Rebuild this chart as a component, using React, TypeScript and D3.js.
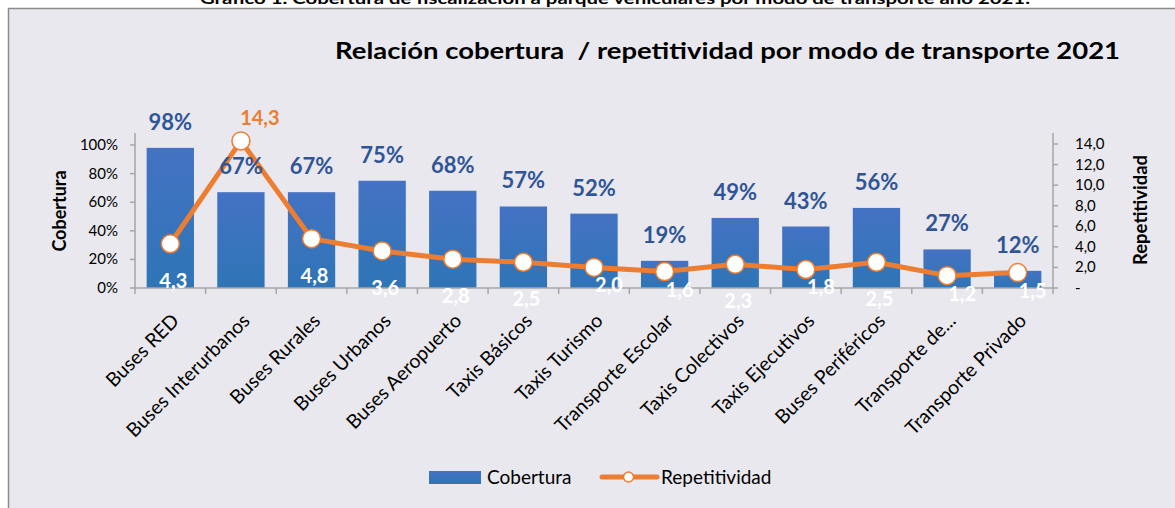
import React from "react";
import * as d3 from "d3";

const categories = [
  "Buses RED",
  "Buses Interurbanos",
  "Buses Rurales",
  "Buses Urbanos",
  "Buses Aeropuerto",
  "Taxis Básicos",
  "Taxis Turismo",
  "Transporte Escolar",
  "Taxis Colectivos",
  "Taxis Ejecutivos",
  "Buses Periféricos",
  "Transporte de...",
  "Transporte Privado",
];
const cobertura = [0.98, 0.67, 0.67, 0.75, 0.68, 0.57, 0.52, 0.19, 0.49, 0.43, 0.56, 0.27, 0.12];
const repetitividad = [4.3, 14.3, 4.8, 3.6, 2.8, 2.5, 2.0, 1.6, 2.3, 1.8, 2.5, 1.2, 1.5];
const leftTicks = [0, 0.2, 0.4, 0.6, 0.8, 1.0];
const rightTicks = [0, 2, 4, 6, 8, 10, 12, 14];
// label layout for the line's data labels
const repLabelPlacement = [
  "below", "above", "below", "below", "below", "below", "right",
  "right", "below", "right", "below", "right", "right",
];

const W = 1175;
const H = 508;
const FONT = "Lato, 'Open Sans', sans-serif";
const BLUE_TEXT = "#2F5597";
const ORANGE = "#ED7D31";

export default function App() {
  const x = d3.scaleBand<string>().domain(categories).range([135, 1053]);
  const yL = d3.scaleLinear().domain([0, 1]).range([288, 145]);
  const yR = d3.scaleLinear().domain([0, 14]).range([288, 144]);
  const bw = x.bandwidth();
  const barW = bw * 0.67;
  const cx = (c: string) => (x(c) as number) + bw / 2;

  const line = d3
    .line<number>()
    .x((_, i) => cx(categories[i]))
    .y((d) => yR(d));

  const fmtR = (v: number) => (v === 0 ? "-" : v.toFixed(1).replace(".", ","));

  return (
    <svg
      width={W}
      height={H}
      style={{ position: "absolute", left: 0, top: 0, background: "#fff" }}
      fontFamily={FONT}
    >
      <defs>
        <linearGradient id="barGrad" x1="0" y1="0" x2="0" y2="1">
          <stop offset="0%" stopColor="#4472C4" />
          <stop offset="100%" stopColor="#2E75B6" />
        </linearGradient>
      </defs>
      <text
        x={615}
        y={4}
        textAnchor="middle"
        fontSize={15}
        fontWeight="bold"
        fill="#000"
        textLength={830}
        lengthAdjust="spacingAndGlyphs"
      >
        Gráfico 1. Cobertura de fiscalización a parque vehiculares por modo de transporte año 2021.
      </text>
      <rect x={8.5} y={8.5} width={W} height={H} fill="#E9E8EE" stroke="#8C8C8C" strokeWidth={1.5} />

      <text
        x={335}
        y={59}
        fontSize={23}
        fontWeight="bold"
        fill="#000"
        textLength={785}
        lengthAdjust="spacingAndGlyphs"
        style={{ whiteSpace: "pre" }}
      >
        {"Relación cobertura  / repetitividad por modo de transporte 2021"}
      </text>

      {/* bars */}
      {categories.map((c, i) => (
        <rect
          key={c}
          x={cx(c) - barW / 2}
          y={yL(cobertura[i])}
          width={barW}
          height={yL(0) - yL(cobertura[i])}
          fill="url(#barGrad)"
        />
      ))}

      {/* left axis */}
      <line x1={135} x2={135} y1={133} y2={288} stroke="#A6A6A6" strokeWidth={1.5} />
      {leftTicks.map((t) => (
        <g key={t}>
          <line x1={130} x2={135} y1={yL(t)} y2={yL(t)} stroke="#A6A6A6" strokeWidth={1.5} />
          <text x={118} y={yL(t) + 5} textAnchor="end" fontSize={15} fill="#000">
            {Math.round(t * 100) + "%"}
          </text>
        </g>
      ))}
      <text
        transform="translate(66,211) rotate(-90)"
        textAnchor="middle"
        fontSize={18}
        fontWeight="bold"
        fill="#000"
      >
        Cobertura
      </text>

      {/* right axis */}
      <line x1={1053} x2={1053} y1={133} y2={288} stroke="#A6A6A6" strokeWidth={1.5} />
      {rightTicks.map((t) => (
        <g key={t}>
          <line x1={1053} x2={1058} y1={yR(t)} y2={yR(t)} stroke="#A6A6A6" strokeWidth={1.5} />
          <text x={1075} y={yR(t) + 5} textAnchor="start" fontSize={15} fill="#000">
            {fmtR(t)}
          </text>
        </g>
      ))}
      <text
        transform="translate(1147,210) rotate(-90)"
        textAnchor="middle"
        fontSize={18.5}
        fontWeight="bold"
        fill="#000"
      >
        Repetitividad
      </text>

      {/* x axis */}
      <line x1={135} x2={1053} y1={288} y2={288} stroke="#A6A6A6" strokeWidth={1.5} />
      {categories.map((c) => (
        <line
          key={"t" + c}
          x1={x(c) as number}
          x2={x(c) as number}
          y1={288}
          y2={294}
          stroke="#A6A6A6"
          strokeWidth={1.5}
        />
      ))}
      <line x1={1053} x2={1053} y1={288} y2={294} stroke="#A6A6A6" strokeWidth={1.5} />
      {categories.map((c) => (
        <text
          key={"l" + c}
          transform={`translate(${cx(c) + 10},${322}) rotate(-45)`}
          textAnchor="end"
          fontSize={19.5}
          fill="#000"
        >
          {c}
        </text>
      ))}

      {/* line */}
      <path
        d={line(repetitividad) || ""}
        fill="none"
        stroke={ORANGE}
        strokeWidth={5}
        strokeLinejoin="round"
      />
      {categories.map((c, i) => (
        <circle
          key={"p" + c}
          cx={cx(c)}
          cy={yR(repetitividad[i])}
          r={9}
          fill="#fff"
          stroke={ORANGE}
          strokeWidth={1.5}
        />
      ))}

      {/* bar labels (drawn above the line) */}
      {categories.map((c, i) => (
        <text
          key={"bl" + c}
          x={cx(c)}
          y={yL(cobertura[i]) - 26 + 8}
          textAnchor="middle"
          fontSize={22}
          fontWeight="bold"
          fill={BLUE_TEXT}
        >
          {Math.round(cobertura[i] * 100) + "%"}
        </text>
      ))}

      {categories.map((c, i) => {
        const p = repLabelPlacement[i];
        const px = cx(c);
        const py = yR(repetitividad[i]);
        let lx = px + 3;
        let ly = py + 37;
        let fill = "#fff";
        if (p === "above") {
          lx = px + 19;
          ly = py - 23;
          fill = ORANGE;
        } else if (p === "right") {
          lx = px + 15;
          ly = py + 18;
        }
        return (
          <text
            key={"rl" + c}
            x={lx}
            y={ly + 7}
            textAnchor="middle"
            fontSize={20}
            fontWeight="bold"
            fill={fill}
          >
            {fmtR(repetitividad[i])}
          </text>
        );
      })}

      {/* legend */}
      <rect x={429} y={471} width={52} height={13} fill="url(#barGrad)" />
      <text x={487} y={484} fontSize={19} fill="#000">
        Cobertura
      </text>
      <line x1={602} x2={657} y1={477} y2={477} stroke={ORANGE} strokeWidth={5} strokeLinecap="round" />
      <circle cx={628.5} cy={477} r={5} fill="#fff" stroke={ORANGE} strokeWidth={1.5} />
      <text x={661} y={484} fontSize={19} fill="#000">
        Repetitividad
      </text>
    </svg>
  );
}
